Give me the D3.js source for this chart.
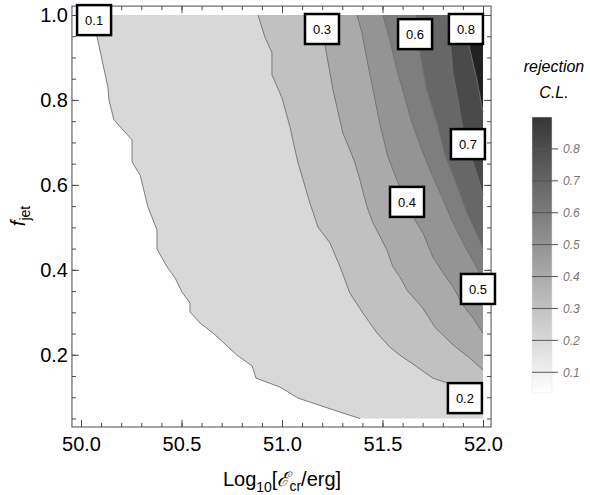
<!DOCTYPE html>
<html>
<head>
<meta charset="utf-8">
<script src="https://cdn.jsdelivr.net/npm/d3@7"></script>
<style>
  body { margin: 0; background: #fff; }
  svg { display: block; font-family: "Liberation Sans", Arial, sans-serif; }
</style>
</head>
<body>
<div class="chart"></div>
<script>
const width = 590;
const height = 495;

// contour levels and the lines, [log10 E, f_jet]
const levels = [0.1, 0.2, 0.3, 0.4, 0.5, 0.6, 0.7, 0.8];

const contour01 = [[50.055, 1.000], [50.080, 0.948], [50.134, 0.830], [50.139, 0.800], [50.164, 0.753],
  [50.254, 0.706], [50.254, 0.654], [50.294, 0.623], [50.333, 0.548], [50.378, 0.494], [50.378, 0.449],
  [50.428, 0.407], [50.468, 0.381], [50.502, 0.348], [50.542, 0.322], [50.542, 0.301], [50.592, 0.275],
  [50.657, 0.251], [50.706, 0.230], [50.776, 0.199], [50.851, 0.174], [50.871, 0.145], [50.990, 0.124],
  [51.080, 0.098], [51.289, 0.065], [51.388, 0.050]];
const contour02 = [[50.881, 1.000], [50.915, 0.948], [50.950, 0.911], [50.950, 0.859], [51.000, 0.805],
  [51.040, 0.736], [51.065, 0.682], [51.080, 0.652], [51.139, 0.557], [51.179, 0.501], [51.239, 0.463],
  [51.289, 0.407], [51.338, 0.345], [51.403, 0.298], [51.473, 0.251], [51.537, 0.218], [51.587, 0.199],
  [51.637, 0.183], [51.751, 0.145], [51.821, 0.134], [52.000, 0.103]];
const contour03 = [[51.184, 1.000], [51.214, 0.929], [51.254, 0.823], [51.303, 0.722], [51.338, 0.682],
  [51.363, 0.652], [51.388, 0.611], [51.423, 0.548], [51.453, 0.510], [51.522, 0.447], [51.552, 0.407],
  [51.587, 0.383], [51.622, 0.352], [51.697, 0.312], [51.761, 0.265], [51.851, 0.223], [51.935, 0.192],
  [52.000, 0.164]];
const contour04 = [[51.373, 1.000], [51.398, 0.958], [51.423, 0.894], [51.458, 0.812], [51.488, 0.741],
  [51.527, 0.666], [51.572, 0.611], [51.622, 0.560], [51.662, 0.517], [51.701, 0.487], [51.751, 0.430],
  [51.801, 0.393], [51.851, 0.360], [51.900, 0.317], [51.950, 0.287], [52.000, 0.251]];
const contour05 = [[51.502, 1.000], [51.537, 0.941], [51.572, 0.870], [51.607, 0.812], [51.642, 0.753],
  [51.692, 0.687], [51.736, 0.635], [51.791, 0.576], [51.851, 0.510], [51.920, 0.447], [51.975, 0.400],
  [52.000, 0.371]];
const contour06 = [[51.667, 1.000], [51.677, 0.941], [51.697, 0.882], [51.721, 0.823], [51.771, 0.746],
  [51.811, 0.670], [51.861, 0.611], [51.920, 0.534], [51.965, 0.489], [52.000, 0.451]];
const contour07 = [[51.821, 1.000], [51.836, 0.941], [51.851, 0.863], [51.876, 0.800], [51.896, 0.741],
  [51.925, 0.696], [51.955, 0.647], [51.980, 0.611], [52.000, 0.576]];
const contour08 = [[51.886, 1.000], [51.910, 0.967], [51.935, 0.918], [51.970, 0.847], [52.000, 0.771]];

const contourLines = [contour01, contour02, contour03, contour04, contour05, contour06, contour07, contour08];
const bandColors = ['#d8d8d8', '#c1c1c1', '#aaaaaa', '#949494', '#7e7e7e', '#676767', '#4a4a4a', '#222222'];

// contour labels
const labelText = ['0.1', '0.2', '0.3', '0.4', '0.5', '0.6', '0.7', '0.8'];
const labelX = [50.065, 51.910, 51.199, 51.622, 51.975, 51.662, 51.925, 51.915];
const labelY = [0.988, 0.098, 0.967, 0.560, 0.355, 0.955, 0.696, 0.967];

// axes
const xTicks = [50.0, 50.5, 51.0, 51.5, 52.0];
const yTicks = [0.2, 0.4, 0.6, 0.8, 1.0];
const legendTicks = [0.1, 0.2, 0.3, 0.4, 0.5, 0.6, 0.7, 0.8];
const legendRange = [0.035, 0.9];

const xMin = 50, xMax = 52, yMin = 0.05, yMax = 1.0;

const x = d3.scaleLinear().domain([xMin, xMax]).range([81, 483]);
const y = d3.scaleLinear().domain([yMin, yMax]).range([418.5, 15]);

const frame = { left: x(49.955), right: x(52.04), top: y(1.021), bottom: y(0.03) };

const svg = d3.select('.chart')
  .append('svg')
    .attr('width', width)
    .attr('height', height);

// filled bands: each level fills everything to the right of its line
const line = d3.line().x(d => x(d[0])).y(d => y(d[1]));

function bandPolygon(pts) {
  const poly = pts.slice();
  const last = poly[poly.length - 1];
  if (last[1] <= yMin + 1e-9) poly.push([xMax, yMin]);
  poly.push([xMax, yMax]);
  return line(poly) + 'Z';
}

svg.append('g')
  .selectAll('path')
  .data(contourLines)
  .join('path')
    .attr('d', d => bandPolygon(d))
    .attr('fill', (d, i) => bandColors[i])
    .attr('stroke', 'none');

svg.append('g')
  .selectAll('path')
  .data(contourLines)
  .join('path')
    .attr('d', d => line(d))
    .attr('fill', 'none')
    .attr('stroke', '#6f6f6f')
    .attr('stroke-width', 0.9);

// frame ticks (inward, all four sides)
const frameColor = '#4a4a4a';
const xMinor = d3.range(50, 52.001, 0.1);
const yMinor = d3.range(0.05, 1.0001, 0.05);

function styleAxis(g) {
  g.select('.domain').remove();
  g.selectAll('.tick line').attr('stroke', frameColor);
  g.selectAll('.tick text')
    .attr('fill', '#000')
    .style('font-size', '20px')
    .style('font-family', '"Liberation Sans", Arial, sans-serif');
}

svg.append('g')
  .attr('transform', `translate(0,${frame.bottom})`)
  .call(d3.axisBottom(x).tickValues(xMinor).tickSize(-4).tickFormat(''))
  .call(styleAxis);
svg.append('g')
  .attr('transform', `translate(0,${frame.bottom})`)
  .call(d3.axisBottom(x).tickValues(xTicks).tickSize(-7).tickPadding(10).tickFormat(d3.format('.1f')))
  .call(styleAxis);
svg.append('g')
  .attr('transform', `translate(0,${frame.top})`)
  .call(d3.axisTop(x).tickValues(xMinor).tickSize(-4).tickFormat(''))
  .call(styleAxis);
svg.append('g')
  .attr('transform', `translate(0,${frame.top})`)
  .call(d3.axisTop(x).tickValues(xTicks).tickSize(-7).tickFormat(''))
  .call(styleAxis);

svg.append('g')
  .attr('transform', `translate(${frame.left},0)`)
  .call(d3.axisLeft(y).tickValues(yMinor).tickSize(-4).tickFormat(''))
  .call(styleAxis);
svg.append('g')
  .attr('transform', `translate(${frame.left},0)`)
  .call(d3.axisLeft(y).tickValues(yTicks).tickSize(-7).tickPadding(4).tickFormat(d3.format('.1f')))
  .call(styleAxis);
svg.append('g')
  .attr('transform', `translate(${frame.right},0)`)
  .call(d3.axisRight(y).tickValues(yMinor).tickSize(-4).tickFormat(''))
  .call(styleAxis);
svg.append('g')
  .attr('transform', `translate(${frame.right},0)`)
  .call(d3.axisRight(y).tickValues(yTicks).tickSize(-7).tickFormat(''))
  .call(styleAxis);

svg.append('rect')
  .attr('x', frame.left)
  .attr('y', frame.top)
  .attr('width', frame.right - frame.left)
  .attr('height', frame.bottom - frame.top)
  .attr('fill', 'none')
  .attr('stroke', frameColor)
  .attr('stroke-width', 1);

// contour labels
const labels = svg.append('g')
  .selectAll('g')
  .data(labelText)
  .join('g')
    .attr('transform', (d, i) => `translate(${x(labelX[i])},${y(labelY[i])})`);

labels.append('rect')
  .attr('x', -17).attr('y', -15)
  .attr('width', 34).attr('height', 30)
  .attr('fill', '#fff')
  .attr('stroke', '#000')
  .attr('stroke-width', 2.5);

labels.append('text')
  .attr('text-anchor', 'middle')
  .attr('dy', '0.36em')
  .style('font-size', '13px')
  .text(d => d);

// axis titles
const xTitle = svg.append('text')
  .attr('x', 282)
  .attr('y', 486)
  .attr('text-anchor', 'middle')
  .style('font-size', '20px');
xTitle.append('tspan').text('Log');
xTitle.append('tspan').attr('dy', 6).style('font-size', '14px').text('10');
xTitle.append('tspan').attr('dy', -6).text('[');
xTitle.append('tspan').style('font-style', 'italic').text('ℰ');
xTitle.append('tspan').attr('dy', 5).style('font-size', '14px').text('cr');
xTitle.append('tspan').attr('dy', -5).text('/erg]');

const yTitle = svg.append('text')
  .attr('transform', 'translate(25,216) rotate(-90)')
  .attr('text-anchor', 'middle')
  .style('font-size', '20px');
yTitle.append('tspan').style('font-style', 'italic').text('f');
yTitle.append('tspan').attr('dy', 5).style('font-size', '14px').text('jet');

// legend
const legendX = 532, legendW = 20;
const ly = d3.scaleLinear().domain(legendRange).range([393, 117]);
const legendColor = d3.scaleLinear().domain(legendRange).range(['#ffffff', '#363636']);

const grad = svg.append('defs').append('linearGradient')
  .attr('id', 'legend-grad')
  .attr('x1', 0).attr('y1', 1).attr('x2', 0).attr('y2', 0);
grad.selectAll('stop')
  .data(legendRange)
  .join('stop')
    .attr('offset', (d, i) => i)
    .attr('stop-color', d => legendColor(d));

svg.append('rect')
  .attr('x', legendX)
  .attr('y', ly(legendRange[1]))
  .attr('width', legendW)
  .attr('height', ly(legendRange[0]) - ly(legendRange[1]))
  .attr('fill', 'url(#legend-grad)')
  .attr('stroke', '#e6e6e6')
  .attr('stroke-width', 0.5);

svg.append('g')
  .selectAll('line')
  .data(legendTicks)
  .join('line')
    .attr('x1', legendX)
    .attr('x2', legendX + legendW + 6)
    .attr('y1', d => ly(d))
    .attr('y2', d => ly(d))
    .attr('stroke', '#555')
    .attr('stroke-width', 1);

svg.append('g')
  .selectAll('text')
  .data(legendTicks)
  .join('text')
    .attr('x', 563)
    .attr('y', d => ly(d))
    .attr('dy', '0.36em')
    .attr('fill', '#777')
    .style('font-size', '12px')
    .style('font-style', 'italic')
    .text(d => d3.format('.1f')(d));

svg.append('text')
  .attr('x', 554)
  .attr('y', 72)
  .attr('text-anchor', 'middle')
  .style('font-size', '16px')
  .style('font-style', 'italic')
  .text('rejection');
svg.append('text')
  .attr('x', 554)
  .attr('y', 98)
  .attr('text-anchor', 'middle')
  .style('font-size', '16px')
  .style('font-style', 'italic')
  .text('C.L.');
</script>
</body>
</html>
